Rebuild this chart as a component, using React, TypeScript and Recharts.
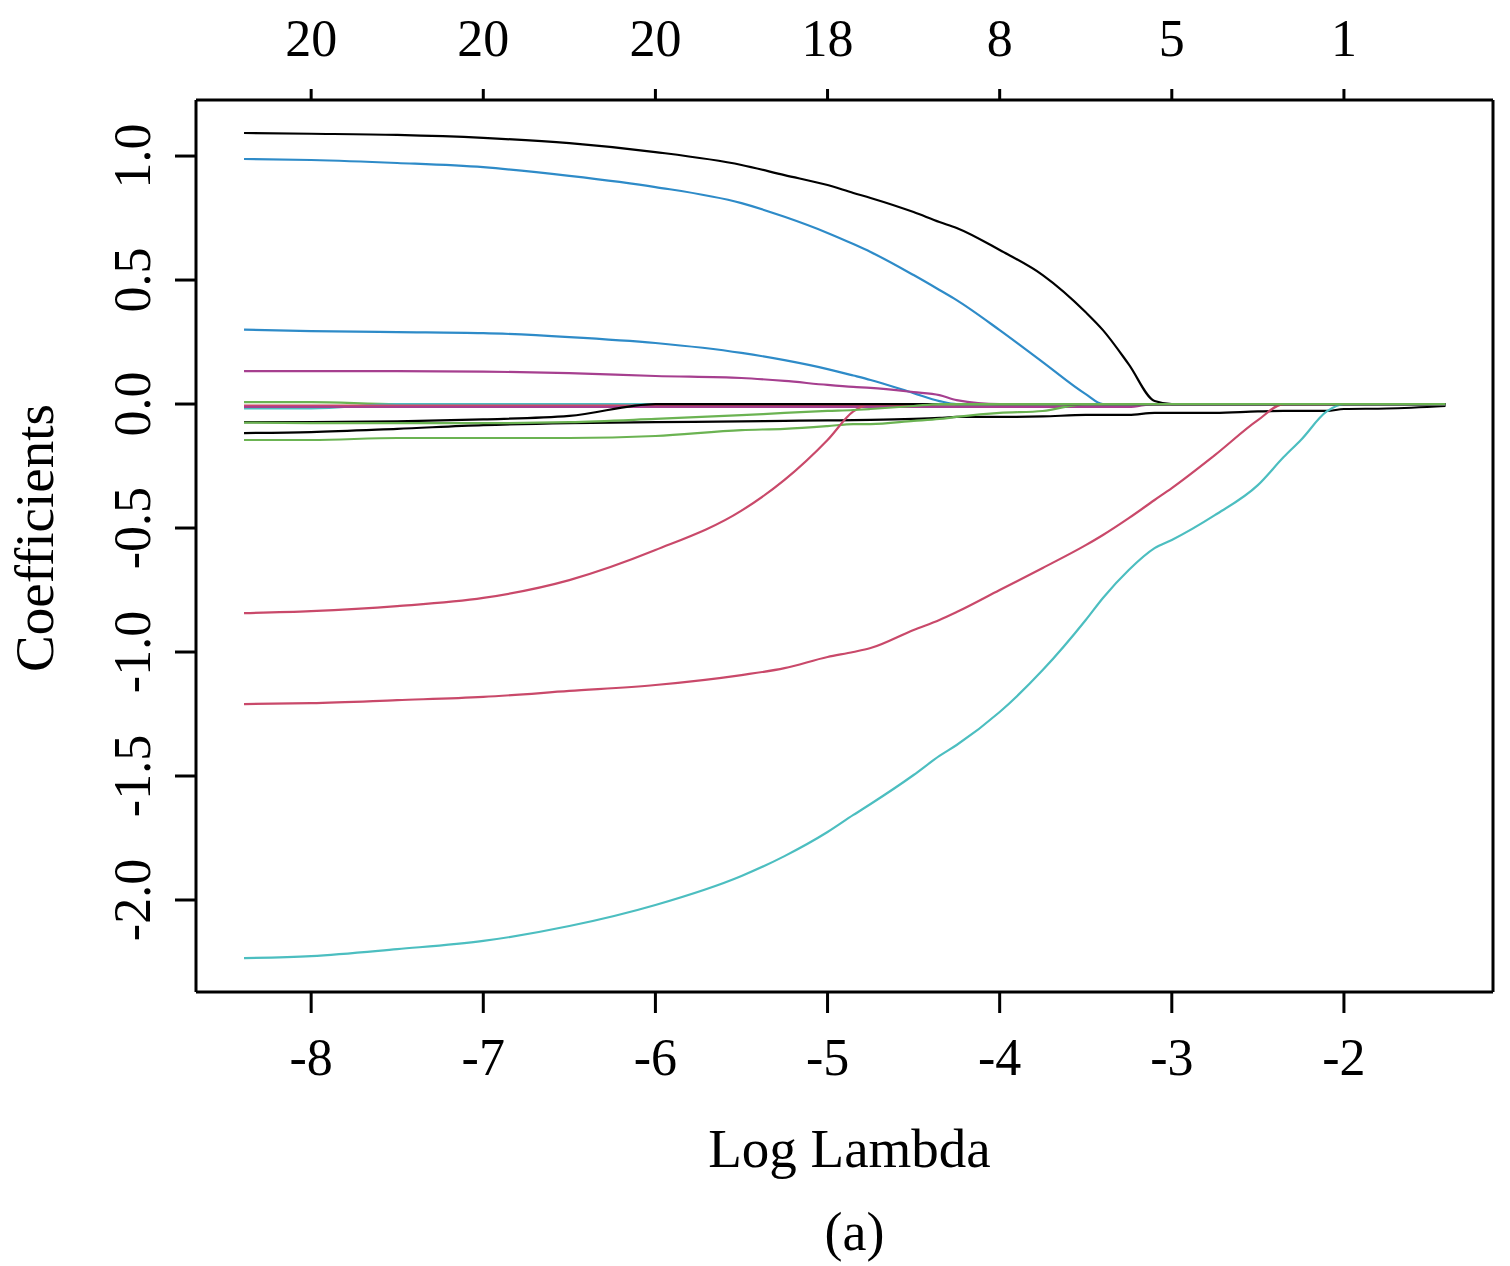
import React from 'react';
import { LineChart, Line, XAxis, YAxis } from 'recharts';

const logLambda = [
  -8.39, -8.0, -7.5, -7.0, -6.5, -6.0, -5.5, -5.25, -5.0, -4.85, -4.75, -4.5, -4.35, -4.25, -4.0,
  -3.75, -3.5, -3.4, -3.25, -3.1, -3.0, -2.75, -2.5, -2.35, -2.25, -2.1, -2.0, -1.75, -1.41,
];

const xTicks = [-8, -7, -6, -5, -4, -3, -2];
const nonzeroCounts = ['20', '20', '20', '18', '8', '5', '1'];
const yTicks = [-2, -1.5, -1, -0.5, 0, 0.5, 1];

// coefficient paths
const greenA = [0.008, 0.008, 0, 0, 0, 0, 0, 0, 0, 0, 0, 0, 0, 0, 0, 0, 0, 0, 0, 0, 0, 0, 0, 0, 0, 0, 0, 0, 0];
const cyanSmall = [-0.018, -0.018, 0, 0, 0, 0, 0, 0, 0, 0, 0, 0, 0, 0, 0, 0, 0, 0, 0, 0, 0, 0, 0, 0, 0, 0, 0, 0, 0];
const redSmall = [-0.006, -0.006, -0.006, -0.006, -0.006, -0.006, -0.006, -0.006, -0.006, -0.006, -0.006, -0.006, 0, 0, 0, 0, 0, 0, 0, 0, 0, 0, 0, 0, 0, 0, 0, 0, 0];
const magentaSmall = [-0.012, -0.012, -0.012, -0.012, -0.012, -0.012, -0.012, -0.012, -0.012, -0.012, -0.012, -0.012, -0.012, -0.012, -0.012, -0.012, -0.012, -0.012, -0.012, 0, 0, 0, 0, 0, 0, 0, 0, 0, 0];
const blackLast = [
  -0.117, -0.113, -0.1, -0.085, -0.077, -0.073, -0.07, -0.068, -0.066, -0.065, -0.064, -0.06, -0.056, -0.052, -0.052,
  -0.05, -0.044, -0.044, -0.044, -0.036, -0.036, -0.036, -0.03, -0.028, -0.028, -0.028, -0.02, -0.018, -0.008,
];
const greenF = [
  -0.145, -0.145, -0.137, -0.137, -0.137, -0.129, -0.105, -0.1, -0.089, -0.081, -0.081, -0.068, -0.06, -0.052, -0.036,
  -0.028, 0, 0, 0, 0, 0, 0, 0, 0, 0, 0, 0, 0, 0,
];
const blackTop = [
  1.093, 1.09, 1.085, 1.073, 1.052, 1.016, 0.964, 0.923, 0.883, 0.851, 0.831, 0.774, 0.734, 0.71, 0.621,
  0.52, 0.37, 0.298, 0.16, 0.012, 0, 0, 0, 0, 0, 0, 0, 0, 0,
];
const blueTop = [
  0.988, 0.984, 0.972, 0.955, 0.92, 0.875, 0.81, 0.755, 0.69, 0.645, 0.613, 0.52, 0.46, 0.419, 0.298,
  0.169, 0.04, 0, 0, 0, 0, 0, 0, 0, 0, 0, 0, 0, 0,
];
const blueLow = [
  0.3, 0.294, 0.29, 0.286, 0.27, 0.246, 0.206, 0.177, 0.141, 0.115, 0.097, 0.044, 0.012, 0, 0,
  0, 0, 0, 0, 0, 0, 0, 0, 0, 0, 0, 0, 0, 0,
];
const purple = [
  0.133, 0.133, 0.133, 0.131, 0.125, 0.113, 0.105, 0.093, 0.077, 0.069, 0.065, 0.048, 0.036, 0.016, 0,
  0, 0, 0, 0, 0, 0, 0, 0, 0, 0, 0, 0, 0, 0,
];
const redUpper = [
  -0.843, -0.835, -0.815, -0.782, -0.71, -0.589, -0.43, -0.306, -0.145, -0.03, 0, 0, 0, 0, 0,
  0, 0, 0, 0, 0, 0, 0, 0, 0, 0, 0, 0, 0, 0,
];
const redLower = [
  -1.21, -1.206, -1.194, -1.181, -1.157, -1.133, -1.093, -1.065, -1.02, -1.0, -0.984, -0.911, -0.871, -0.839, -0.75,
  -0.661, -0.569, -0.528, -0.46, -0.387, -0.339, -0.206, -0.065, 0, 0, 0, 0, 0, 0,
];
const cyanBig = [
  -2.234, -2.226, -2.198, -2.165, -2.105, -2.02, -1.903, -1.823, -1.726, -1.657, -1.613, -1.496, -1.419, -1.375, -1.242,
  -1.073, -0.871, -0.782, -0.669, -0.581, -0.548, -0.448, -0.327, -0.214, -0.145, -0.03, 0, 0, 0,
];
const blackEarly = [
  -0.073, -0.073, -0.07, -0.062, -0.048, 0, 0, 0, 0, 0, 0, 0, 0, 0, 0,
  0, 0, 0, 0, 0, 0, 0, 0, 0, 0, 0, 0, 0, 0,
];
const greenG = [
  -0.075, -0.077, -0.077, -0.077, -0.073, -0.06, -0.045, -0.036, -0.028, -0.024, -0.02, -0.008, 0, 0, 0,
  0, 0, 0, 0, 0, 0, 0, 0, 0, 0, 0, 0, 0, 0,
];

const BLACK = '#000000';
const BLUE = '#2E8BC8';
const CYAN = '#4CBEC0';
const RED = '#C9496A';
const MAGENTA = '#A63F8F';
const GREEN = '#6BB352';

// drawing order: later series sit on top
const series = [
  { key: 'greenA', color: GREEN, values: greenA },
  { key: 'cyanSmall', color: CYAN, values: cyanSmall },
  { key: 'redSmall', color: RED, values: redSmall },
  { key: 'magentaSmall', color: MAGENTA, values: magentaSmall },
  { key: 'blackLast', color: BLACK, values: blackLast },
  { key: 'greenF', color: GREEN, values: greenF },
  { key: 'blackTop', color: BLACK, values: blackTop },
  { key: 'blueTop', color: BLUE, values: blueTop },
  { key: 'blueLow', color: BLUE, values: blueLow },
  { key: 'purple', color: MAGENTA, values: purple },
  { key: 'redUpper', color: RED, values: redUpper },
  { key: 'redLower', color: RED, values: redLower },
  { key: 'cyanBig', color: CYAN, values: cyanBig },
  { key: 'blackEarly', color: BLACK, values: blackEarly },
  { key: 'greenG', color: GREEN, values: greenG },
];

const data = logLambda.map((x, i) => {
  const row: Record<string, number> = { x };
  series.forEach((s) => {
    row[s.key] = s.values[i];
  });
  return row;
});

const W = 1510;
const H = 1266;
const PLOT_LEFT = 196;
const PLOT_RIGHT = 1493;
const PLOT_TOP = 100;
const PLOT_BOTTOM = 992;
const FONT = '"Liberation Serif", "Times New Roman", serif';
const X_DOMAIN: [number, number] = [-8.669, -1.134];
const Y_DOMAIN: [number, number] = [-2.371, 1.226];

const BottomTick = (props: any) => (
  <text x={props.x} y={1075} textAnchor="middle" fontFamily={FONT} fontSize={52} fill="#000">
    {String(props.payload.value)}
  </text>
);

const TopTick = (props: any) => (
  <text x={props.x} y={56} textAnchor="middle" fontFamily={FONT} fontSize={52} fill="#000">
    {nonzeroCounts[xTicks.indexOf(props.payload.value)]}
  </text>
);

const LeftTick = (props: any) => (
  <text
    x={150}
    y={props.y}
    transform={`rotate(-90, 150, ${props.y})`}
    textAnchor="middle"
    fontFamily={FONT}
    fontSize={52}
    fill="#000"
  >
    {Number(props.payload.value).toFixed(1)}
  </text>
);

const axisStroke = { stroke: '#000', strokeWidth: 3 };
const labelMidY = (PLOT_TOP + PLOT_BOTTOM) / 2 - 8;

export default function App() {
  return (
    <div style={{ position: 'absolute', left: 0, top: 0, width: W, height: H, background: '#fff' }}>
      <LineChart width={W} height={H} data={data} margin={{ top: 0, right: 0, bottom: 0, left: 0 }}>
        <XAxis
          xAxisId="b"
          dataKey="x"
          type="number"
          domain={X_DOMAIN}
          ticks={xTicks}
          interval={0}
          allowDataOverflow
          height={H - PLOT_BOTTOM}
          tickSize={21}
          axisLine={axisStroke}
          tickLine={axisStroke}
          tick={BottomTick}
        />
        <XAxis
          xAxisId="t"
          orientation="top"
          dataKey="x"
          type="number"
          domain={X_DOMAIN}
          ticks={xTicks}
          interval={0}
          allowDataOverflow
          height={PLOT_TOP}
          tickSize={11}
          axisLine={axisStroke}
          tickLine={axisStroke}
          tick={TopTick}
        />
        <YAxis
          yAxisId="l"
          type="number"
          domain={Y_DOMAIN}
          ticks={yTicks}
          interval={0}
          allowDataOverflow
          width={PLOT_LEFT}
          tickSize={21}
          axisLine={axisStroke}
          tickLine={axisStroke}
          tick={LeftTick}
        />
        <YAxis
          yAxisId="r"
          orientation="right"
          type="number"
          domain={Y_DOMAIN}
          allowDataOverflow
          width={W - PLOT_RIGHT}
          axisLine={axisStroke}
          tickLine={false}
          tick={false}
        />
        {series.map((s) => (
          <Line
            key={s.key}
            xAxisId="b"
            yAxisId="l"
            type="monotone"
            dataKey={s.key}
            stroke={s.color}
            strokeWidth={2.2}
            dot={false}
            activeDot={false}
            isAnimationActive={false}
          />
        ))}
      </LineChart>
      <svg
        width={W}
        height={H}
        style={{ position: 'absolute', left: 0, top: 0, pointerEvents: 'none' }}
      >
        <text
          x={53}
          y={labelMidY}
          transform={`rotate(-90, 53, ${labelMidY})`}
          textAnchor="middle"
          fontFamily={FONT}
          fontSize={55}
          fill="#000"
        >
          Coefficients
        </text>
        <text x={(PLOT_LEFT + PLOT_RIGHT) / 2 + 5} y={1167} textAnchor="middle" fontFamily={FONT} fontSize={55} fill="#000">
          Log Lambda
        </text>
        <text x={(PLOT_LEFT + PLOT_RIGHT) / 2 + 10} y={1250} textAnchor="middle" fontFamily={FONT} fontSize={54} fill="#000">
          (a)
        </text>
      </svg>
    </div>
  );
}
